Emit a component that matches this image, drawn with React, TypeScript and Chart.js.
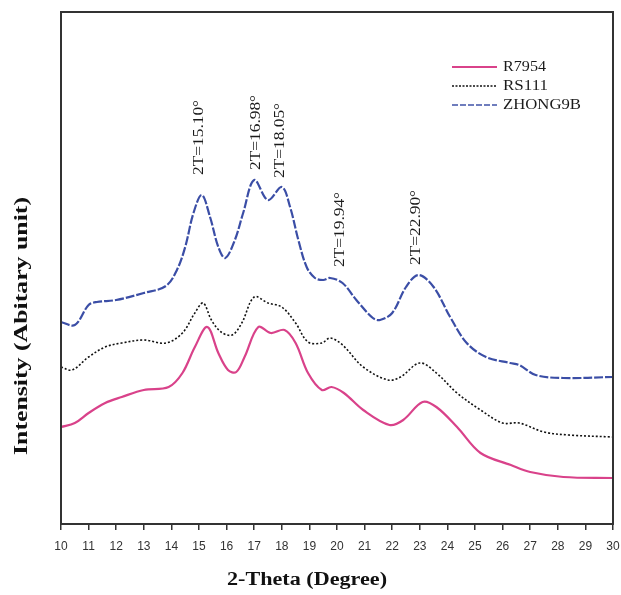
import React, { useEffect, useRef } from "react";
import { Chart, registerables } from "chart.js";

Chart.register(...registerables);

// ---- Data (2-Theta in degrees, intensity in arbitrary units) ----
const seriesNames = ["R7954", "RS111", "ZHONG9B"];

const r7954Theta = [10.0, 10.5, 11.0, 11.6, 12.2, 13.0, 13.9, 14.4, 14.85, 15.3, 15.7, 16.05, 16.35, 16.65, 17.15, 17.6, 18.1, 18.5, 18.95, 19.45, 19.8, 20.25, 20.95, 21.9, 22.4, 23.1, 23.6, 24.35, 25.2, 26.3, 27.0, 28.2, 30.0];
const r7954Intensity = [97, 101, 111, 121, 127, 134, 137, 151, 177, 197, 171, 154, 152, 167, 197, 191, 194, 181, 151, 134, 137, 131, 114, 99, 104, 122, 117, 97, 71, 59, 52, 47, 46];

const rs111Theta = [10.0, 10.4, 11.0, 11.6, 12.2, 13.0, 13.8, 14.4, 14.85, 15.15, 15.45, 15.8, 16.2, 16.55, 17.0, 17.5, 18.0, 18.5, 18.95, 19.45, 19.75, 20.2, 20.95, 21.85, 22.3, 23.0, 23.6, 24.35, 25.2, 26.0, 26.6, 27.5, 28.4, 30.0];
const rs111Intensity = [157, 154, 167, 177, 181, 184, 181, 191, 211, 221, 204, 192, 189, 201, 227, 221, 217, 201, 182, 181, 186, 179, 157, 144, 147, 161, 151, 131, 114, 101, 101, 92, 89, 87];

const zhong9bTheta = [10.0, 10.5, 11.0, 11.3, 12.0, 13.0, 13.8, 14.2, 14.5, 14.8, 15.1, 15.4, 15.7, 15.95, 16.3, 16.6, 17.0, 17.5, 18.0, 18.3, 18.6, 18.9, 19.2, 19.5, 19.75, 20.2, 20.7, 21.3, 21.56, 22.0, 22.5, 22.95, 23.5, 24.1, 24.7, 25.4, 26.27, 26.6, 27.2, 28.2, 30.0];
const zhong9bIntensity = [202, 199, 219, 222, 224, 231, 238, 254, 277, 311, 329, 307, 277, 266, 284, 311, 344, 324, 337, 317, 284, 257, 246, 244, 246, 241, 224, 206, 204, 211, 237, 249, 237, 207, 181, 167, 161, 159, 149, 146, 147];

const peakLabels = ["2T=15.10°", "2T=16.98°", "2T=18.05°", "2T=19.94°", "2T=22.90°"];
const peakLabelTheta = [15.0, 17.05, 17.95, 20.12, 22.85];
const peakLabelBase = [349, 354, 346, 257, 259];

const xMin = 10;
const xMax = 30;
const yMin = 0;
const yMax = 512;

const colors = ["#d9428a", "#111111", "#3b4ea6"];
const dashes: number[][] = [[], [2, 2], [9, 2]];

function toPoints(xs: number[], ys: number[]) {
  return xs.map((x, i) => ({ x, y: ys[i] }));
}

function drawScaledText(
  ctx: CanvasRenderingContext2D,
  text: string,
  x: number,
  y: number,
  font: string,
  targetWidth: number,
  rotate: boolean,
  align: "left" | "center"
) {
  ctx.save();
  ctx.font = font;
  const w = ctx.measureText(text).width;
  const s = targetWidth / w;
  ctx.translate(x, y);
  if (rotate) ctx.rotate(-Math.PI / 2);
  ctx.scale(s, 1);
  ctx.textAlign = align;
  ctx.textBaseline = "middle";
  ctx.fillText(text, 0, 0);
  ctx.restore();
}

const decorPlugin = {
  id: "decor",
  afterDraw(chart: any) {
    const { ctx, chartArea } = chart;
    const xs = chart.scales.x;
    const ys = chart.scales.y;
    // frame
    ctx.save();
    ctx.strokeStyle = "#333";
    ctx.lineWidth = 2;
    ctx.strokeRect(chartArea.left, chartArea.top, chartArea.right - chartArea.left, chartArea.bottom - chartArea.top);
    ctx.restore();

    ctx.save();
    ctx.fillStyle = "#1a1a1a";
    // peak annotations
    peakLabels.forEach((t, i) => {
      const px = xs.getPixelForValue(peakLabelTheta[i]);
      const py = ys.getPixelForValue(peakLabelBase[i]);
      drawScaledText(ctx, t, px, py, '15px "Liberation Serif", "Times New Roman", serif', 75, true, "left");
    });

    // legend
    const rows = [67, 86, 105];
    seriesNames.forEach((n, i) => {
      ctx.save();
      ctx.strokeStyle = i === 2 ? "#6f7dbd" : colors[i];
      ctx.lineWidth = i === 1 ? 1.5 : 2;
      ctx.setLineDash(i === 1 ? [2, 1.5] : i === 2 ? [6, 2] : []);
      ctx.beginPath();
      ctx.moveTo(452, rows[i]);
      ctx.lineTo(497, rows[i]);
      ctx.stroke();
      ctx.restore();
    });
    ctx.fillStyle = "#1a1a1a";
    const legendWidths = [43, 45, 78];
    seriesNames.forEach((n, i) => {
      drawScaledText(ctx, n, 503, rows[i], '14px "Liberation Serif", "Times New Roman", serif', legendWidths[i], false, "left");
    });

    // axis titles
    ctx.fillStyle = "#111";
    drawScaledText(ctx, "2-Theta (Degree)", 307, 580, 'bold 18px "Liberation Serif", "Times New Roman", serif', 160, false, "center");
    drawScaledText(ctx, "Intensity (Abitary unit)", 22, 326, 'bold 19px "Liberation Serif", "Times New Roman", serif', 258, true, "center");
    ctx.restore();
  },
};

export default function App() {
  const ref = useRef<HTMLCanvasElement | null>(null);

  useEffect(() => {
    if (!ref.current) return;
    const allTheta = [r7954Theta, rs111Theta, zhong9bTheta];
    const allInt = [r7954Intensity, rs111Intensity, zhong9bIntensity];
    const chart = new Chart(ref.current, {
      type: "line",
      data: {
        datasets: seriesNames.map((name, i) => ({
          label: name,
          data: toPoints(allTheta[i], allInt[i]),
          borderColor: colors[i],
          borderWidth: i === 1 ? 1.6 : 2.2,
          borderDash: dashes[i],
          pointRadius: 0,
          tension: 0.35,
          fill: false,
        })),
      },
      options: {
        responsive: false,
        animation: false,
        layout: { padding: { left: 61, top: 12, right: 8, bottom: 0 } },
        plugins: {
          legend: { display: false },
          tooltip: { enabled: false },
        },
        scales: {
          x: {
            type: "linear",
            min: xMin,
            max: xMax,
            afterFit(scale: any) {
              scale.height = 71;
              scale.paddingLeft = 0;
              scale.paddingRight = 0;
            },
            border: { display: false },
            grid: {
              display: true,
              drawOnChartArea: false,
              drawTicks: true,
              tickLength: 6,
              color: "#333",
              lineWidth: 1.5,
            },
            ticks: {
              stepSize: 1,
              padding: 9,
              color: "#333",
              maxRotation: 0,
              autoSkip: false,
              font: { family: '"Liberation Sans", Arial, sans-serif', size: 12 },
            },
          },
          y: {
            type: "linear",
            min: yMin,
            max: yMax,
            afterFit(scale: any) {
              scale.width = 0;
            },
            border: { display: false },
            grid: { display: false },
            ticks: { display: false },
          },
        },
      },
      plugins: [decorPlugin],
    });
    return () => chart.destroy();
  }, []);

  return (
    <div style={{ position: "fixed", left: 0, top: 0, width: 621, height: 595, background: "#fff" }}>
      <canvas ref={ref} width={621} height={595} style={{ display: "block" }} />
    </div>
  );
}
